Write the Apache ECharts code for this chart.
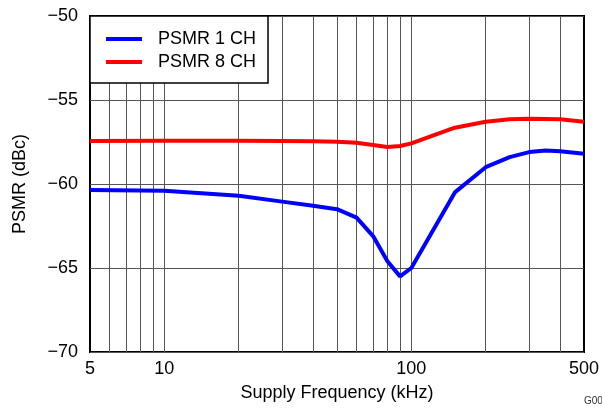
<!DOCTYPE html>
<html>
<head>
<meta charset="utf-8">
<script src="https://cdn.jsdelivr.net/npm/echarts@6/dist/echarts.min.js"></script>
<style>
  html, body { margin: 0; padding: 0; background: #fff; }
  #chart_id { width: 602px; height: 408px; }
</style>
</head>
<body>
<div id="chart_id"></div>
<script>
// data
const freq1 = [5, 10, 20, 30, 40, 50, 60, 70, 80, 90, 100, 150, 200, 250, 300, 350, 400, 500];
const psmr1 = [-60.36, -60.4, -60.7, -61.05, -61.3, -61.5, -62.0, -63.1, -64.6, -65.5, -65.0, -60.5, -59.0, -58.4, -58.1, -58.0, -58.05, -58.2];
const freq8 = [5, 10, 20, 30, 40, 50, 60, 70, 80, 90, 100, 150, 200, 250, 300, 400, 500];
const psmr8 = [-57.44, -57.42, -57.42, -57.44, -57.46, -57.48, -57.54, -57.68, -57.8, -57.74, -57.58, -56.65, -56.29, -56.15, -56.11, -56.15, -56.29];
const xLabels = [5, 10, 100, 500];
const gridFreqs = [6, 7, 8, 9, 10, 20, 30, 40, 50, 60, 70, 80, 90, 100, 200, 300, 400];

const font = 'Liberation Sans, Arial, sans-serif';
const myChart = echarts.init(document.getElementById('chart_id'));

const option = {
  animation: false,
  grid: {
    left: 90,
    right: 17,
    top: 16,
    bottom: 56,
    show: true,
    borderColor: '#000',
    borderWidth: 2,
  },
  legend: {
    left: 90,
    top: 16,
    orient: 'vertical',
    icon: 'rect',
    itemWidth: 36,
    itemHeight: 4,
    itemGap: 5,
    padding: [14, 12, 12, 16],
    backgroundColor: '#fff',
    borderColor: '#000',
    borderWidth: 1.5,
    borderRadius: 0,
    z: 10,
    textStyle: {
      fontFamily: font,
      fontSize: 18,
      color: '#000',
      padding: [0, 0, 0, 11],
    },
    data: ['PSMR 1 CH', 'PSMR 8 CH'],
  },
  xAxis: {
    type: 'log',
    logBase: 10,
    min: 5,
    max: 500,
    name: 'Supply Frequency (kHz)',
    nameLocation: 'middle',
    nameGap: 32,
    nameTextStyle: { fontFamily: font, fontSize: 18, color: '#000' },
    axisLine: { show: false },
    axisTick: { show: false },
    splitLine: { show: false },
    axisLabel: {
      customValues: xLabels,
      fontFamily: font,
      fontSize: 18,
      color: '#000',
      margin: 8,
      formatter: (v) => String(Math.round(v)),
    },
  },
  yAxis: {
    type: 'value',
    min: -70,
    max: -50,
    interval: 5,
    name: 'PSMR (dBc)',
    nameLocation: 'middle',
    nameGap: 61,
    nameTextStyle: { fontFamily: font, fontSize: 18, color: '#000' },
    axisLine: { show: false },
    axisTick: { show: false },
    axisLabel: {
      fontFamily: font,
      fontSize: 18,
      color: '#000',
      margin: 12,
      formatter: (v) => String(v).replace('-', '\u2212'),
    },
    splitLine: { lineStyle: { color: '#555', width: 1 } },
  },
  series: [
    {
      name: 'PSMR 1 CH',
      type: 'line',
      color: '#0000ff',
      data: freq1.map((f, i) => [f, psmr1[i]]),
      showSymbol: false,
      lineStyle: { width: 4, color: '#0000ff' },
      z: 3,
      markLine: {
        silent: true,
        symbol: 'none',
        label: { show: false },
        lineStyle: { color: '#555', width: 1, type: 'solid' },
        z: 1,
        data: gridFreqs.map((f) => ({ xAxis: f })),
      },
    },
    {
      name: 'PSMR 8 CH',
      type: 'line',
      color: '#ff0000',
      data: freq8.map((f, i) => [f, psmr8[i]]),
      showSymbol: false,
      lineStyle: { width: 4, color: '#ff0000' },
      z: 3,
    },
  ],
  graphic: [
    {
      type: 'text',
      left: 584,
      top: 396,
      style: { text: 'G000', fontFamily: font, fontSize: 10, fill: '#333' },
    },
  ],
};
myChart.setOption(option);
window.onresize = myChart.resize;
</script>
</body>
</html>
